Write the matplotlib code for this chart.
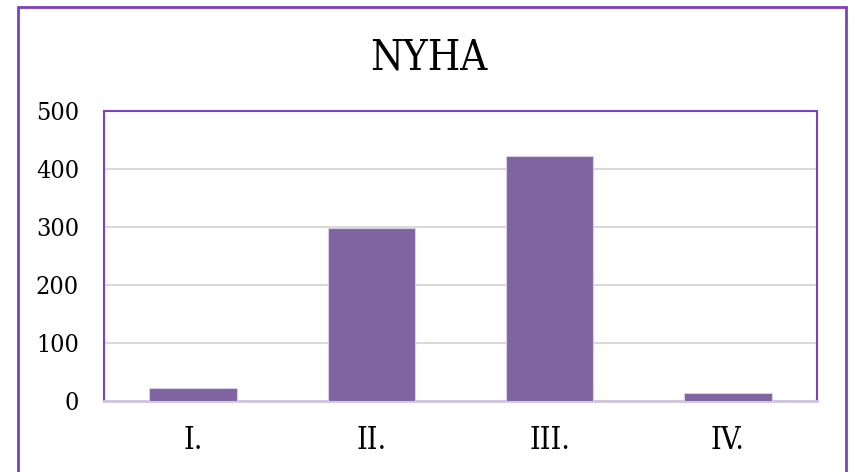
import matplotlib.pyplot as plt
from matplotlib.patches import Rectangle

# Data
categories = ['I.', 'II.', 'III.', 'IV.']
values = [22, 299, 422, 14]
title = 'NYHA'
y_ticks = [0, 100, 200, 300, 400, 500]

bar_color = '#8064A2'
border_color = '#7F3FBF'

fig = plt.figure(figsize=(8.5, 4.72), dpi=100)
ax = fig.add_axes([104 / 850, 71 / 472, 713 / 850, 290 / 472])

x = range(len(categories))
ax.bar(x, values, width=0.49, color=bar_color, edgecolor='#D9D0E6', linewidth=0.8, zorder=3)

ax.set_xlim(-0.5, len(categories) - 0.5)
ax.set_ylim(0, 500)
ax.set_yticks(y_ticks)
ax.set_xticks(list(x))
ax.set_xticklabels(categories)
ax.yaxis.grid(True, color='#D9D9D9', linewidth=1.5, zorder=0)
ax.tick_params(length=0)
ax.tick_params(axis='x', pad=17, labelsize=22)
ax.tick_params(axis='y', pad=18, labelsize=18)
for lab in ax.get_xticklabels() + ax.get_yticklabels():
    lab.set_family('DejaVu Serif')
    lab.set_fontstretch('condensed')

for side in ['left', 'top', 'right']:
    ax.spines[side].set_color(border_color)
    ax.spines[side].set_linewidth(1.5)
ax.spines['bottom'].set_color('#D0C4E0')
ax.spines['bottom'].set_linewidth(2)

fig.text(0.505, 0.878, title, ha='center', va='center', fontsize=30,
         family='DejaVu Serif', fontstretch='condensed')

# outer chart border
fig.patches.append(Rectangle((17.5 / 850, -0.05), 828 / 850, 1 - 7 / 472 + 0.05,
                             transform=fig.transFigure, fill=False,
                             edgecolor=border_color, linewidth=2))

fig.savefig('out.png', dpi=100)
